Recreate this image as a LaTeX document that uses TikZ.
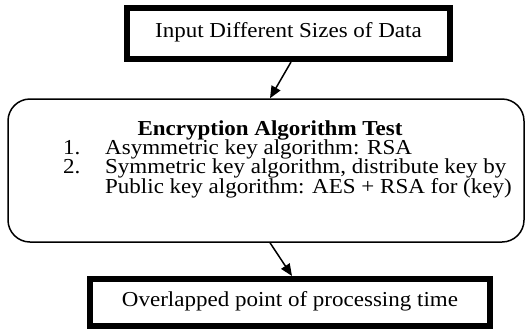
\documentclass[tikz,border=0pt]{standalone}
\usepackage{fontspec}
\setmainfont{Liberation Serif}[FakeStretch=1.08]
\usetikzlibrary{arrows.meta,positioning}

\begin{document}
\begin{tikzpicture}[
    x=1pt, y=-1pt,
    >={Triangle[length=12pt,width=10pt]},
    thickbox/.style={rectangle, draw, line width=6pt, text height=1em, text depth=0.22em,
        font=\fontsize{21.3}{19.3}\selectfont},
    roundbox/.style={rectangle, draw, rounded corners=22pt, line width=1.5pt},
    txt/.style={font=\fontsize{21.3}{19.3}\selectfont, inner sep=0pt, anchor=base west,
        text height=0.7em, text depth=0.18em}
]
    \useasboundingbox (0,0) rectangle (526,330);

    \node[thickbox, minimum width=323pt, minimum height=51pt] (inbox) at (288.5,33.5) {Input Different Sizes of Data};
    \node[roundbox, minimum width=516pt, minimum height=143pt] (test) at (266,170.5) {};
    \node[thickbox, minimum width=400pt, minimum height=47pt] (outbox) at (290,302.5) {Overlapped point of processing time};

    % list inside the rounded box
    \node[txt, anchor=base] (title) at (270,135) {\textbf{Encryption Algorithm Test}};
    \node[txt] (n1) at (63,154.5) {1.};
    \node[txt] (l1) at (105,154.5) {Asymmetric key algorithm: RSA};
    \node[txt] (n2) at (63,173.8) {2.};
    \node[txt] (l2) at (105,173.8) {Symmetric key algorithm, distribute key by};
    \node[txt] (l3) at (105,193) {Public key algorithm: AES + RSA for (key)};

    \draw[->, line width=1.5pt] ([xshift=2.5pt]inbox.south) -- ([xshift=4pt]test.north);
    \draw[->, line width=1.5pt] ([xshift=4pt]test.south) -- ([xshift=2pt]outbox.north);
\end{tikzpicture}
\end{document}
